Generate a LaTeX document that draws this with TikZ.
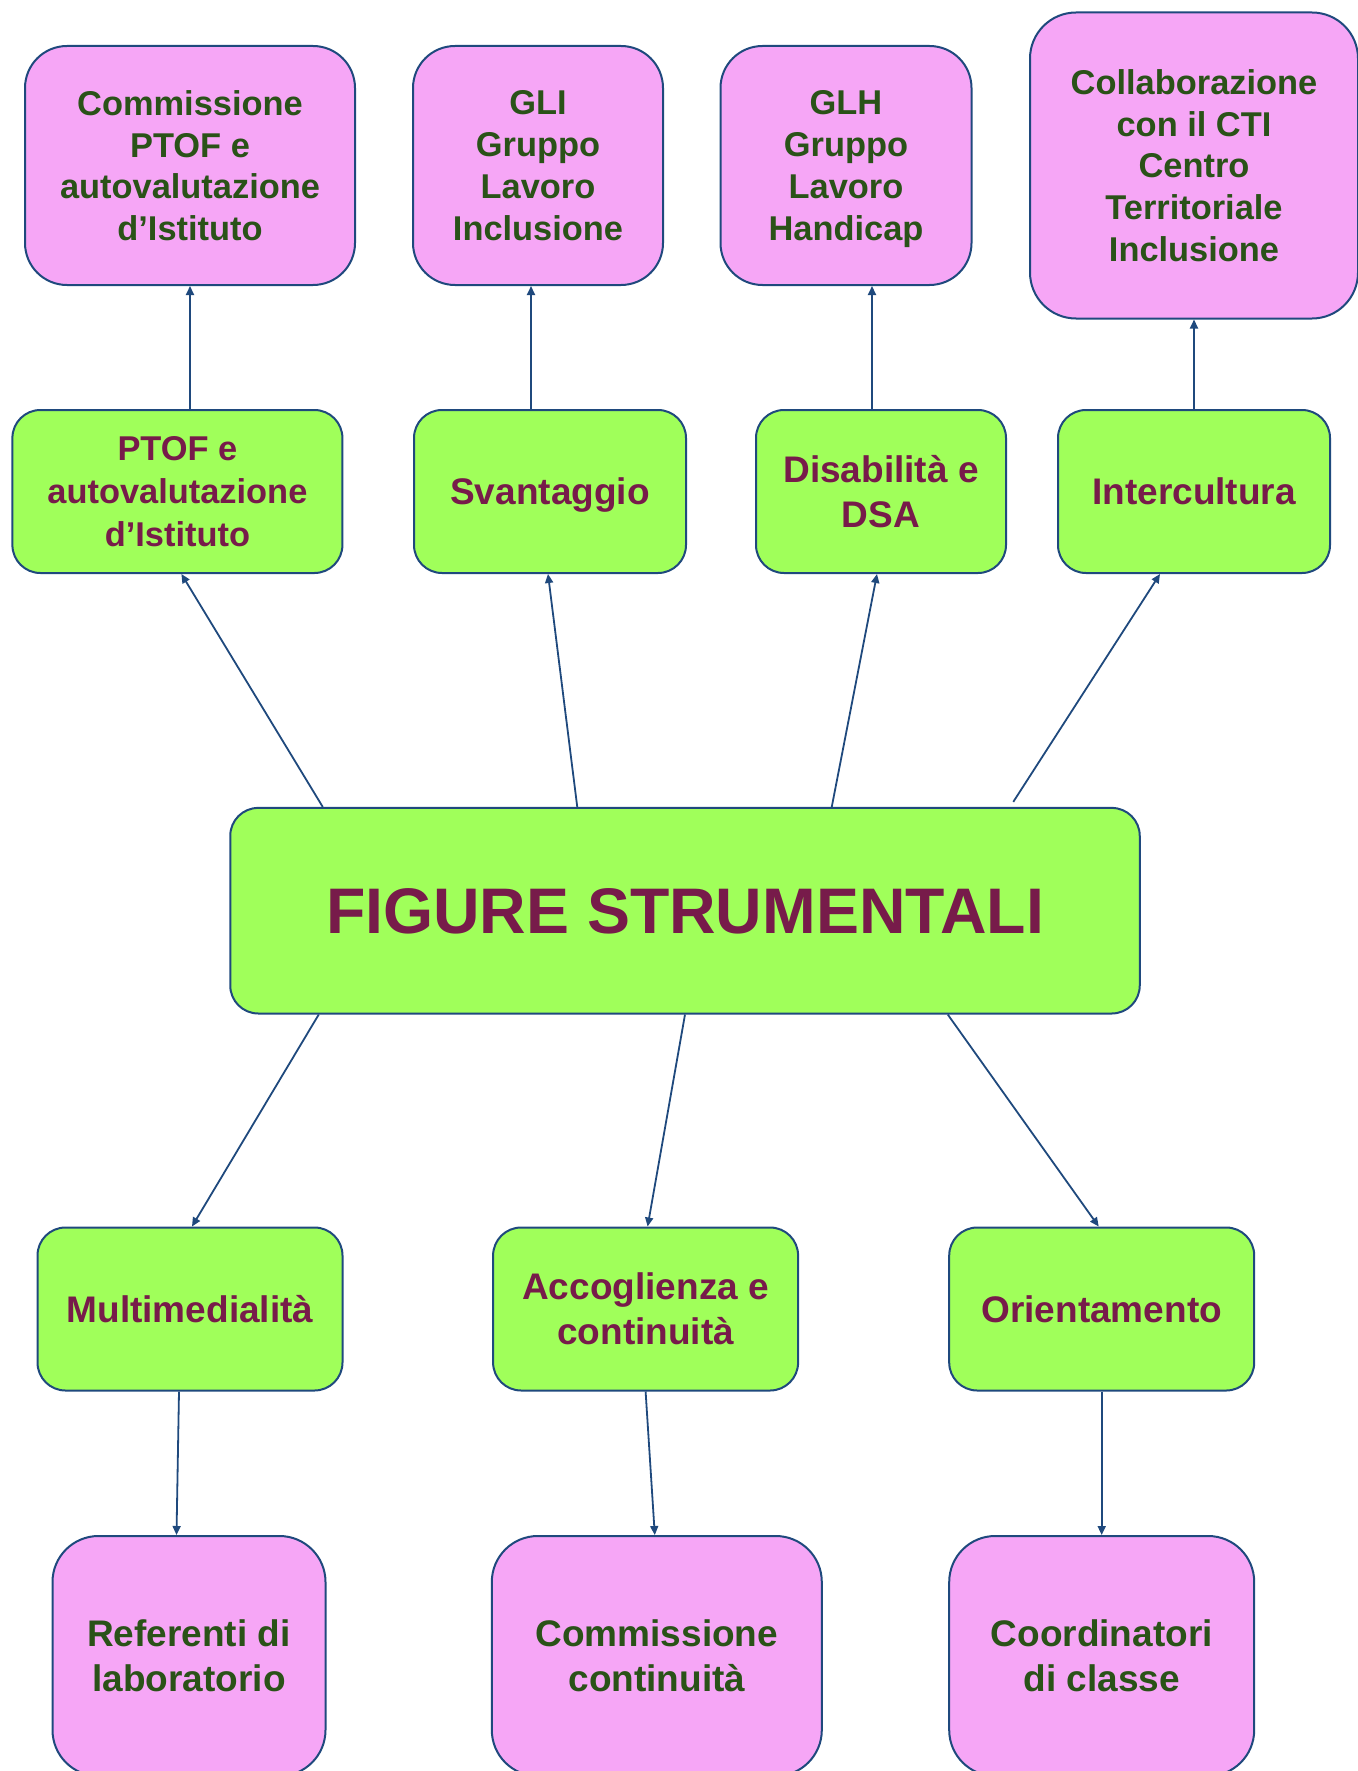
\documentclass[tikz,border=0pt]{standalone}
\usepackage{fontspec}
\setmainfont{Liberation Sans}
\usepackage{tikz}
\usetikzlibrary{arrows.meta,positioning,calc}
\definecolor{boxpink}{RGB}{246,166,246}
\definecolor{boxgreen}{RGB}{160,255,90}
\definecolor{textmaroon}{RGB}{119,27,74}
\definecolor{textgreen}{RGB}{42,82,24}
\definecolor{linkblue}{RGB}{31,73,125}

\tikzset{
    box/.style={draw=linkblue, line width=1pt, align=center, inner sep=0pt, text depth=0pt},
    pinkbox/.style={box, fill=boxpink, text=textgreen, rounded corners=21pt,
          minimum height=119.5pt, font=\fontsize{17.2pt}{20.9pt}\selectfont\bfseries},
    lowpink/.style={pinkbox, rounded corners=23pt, minimum height=120pt,
          font=\fontsize{18.5pt}{22.5pt}\selectfont\bfseries},
    greenbox/.style={box, fill=boxgreen, text=textmaroon, rounded corners=14pt,
          minimum height=81.5pt, font=\fontsize{18.5pt}{22.5pt}\selectfont\bfseries},
    link/.style={draw=linkblue, line width=0.9pt, -{Triangle[length=4.5pt,width=4pt]}}
}

\begin{document}
\begin{tikzpicture}[x=0.5pt, y=-0.5pt]
    \useasboundingbox (0,0) rectangle (1357,1771);

    % top row
    \node[pinkbox, minimum width=165pt] (P1) at (190,165.5)
        {Commissione\\PTOF e\\autovalutazione\\d’Istituto};
    \node[pinkbox, minimum width=125pt] (P2) at (538,165.5)
        {GLI\\Gruppo\\Lavoro\\Inclusione};
    \node[pinkbox, minimum width=125.5pt] (P3) at (846,165.5)
        {GLH\\Gruppo\\Lavoro\\Handicap};
    \node[pinkbox, minimum width=164pt, minimum height=153pt, rounded corners=23pt] (P4) at (1194,165.5)
        {Collaborazione\\con il CTI\\Centro\\Territoriale\\Inclusione};

    % second row
    \node[greenbox, minimum width=165pt, font=\fontsize{17.2pt}{21.5pt}\selectfont\bfseries] (G1) at (177.4,491.5)
        {PTOF e\\autovalutazione\\d’Istituto};
    \node[greenbox, minimum width=136pt] (G2) at (550,491.5) {Svantaggio};
    \node[greenbox, minimum width=125pt] (G3) at (881,491.5) {Disabilità e\\DSA};
    \node[greenbox, minimum width=136pt] (G4) at (1194,491.5) {Intercultura};

    % centre
    \node[greenbox, minimum width=454.75pt, minimum height=102.8pt,
          font=\fontsize{32.2pt}{36pt}\selectfont\bfseries] (C) at (685,910.7)
        {FIGURE STRUMENTALI};

    % lower rows
    \node[greenbox, minimum width=152.5pt] (B1) at (190,1309) {Multimedialità};
    \node[greenbox, minimum width=152.5pt] (B2) at (645.6,1309) {Accoglienza e\\continuità};
    \node[greenbox, minimum width=152.5pt] (B3) at (1101.7,1309) {Orientamento};

    \node[lowpink, minimum width=136.5pt] (Q1) at (189,1656) {Referenti di\\laboratorio};
    \node[lowpink, minimum width=165pt] (Q2) at (656.8,1656) {Commissione\\continuità};
    \node[lowpink, minimum width=152.5pt] (Q3) at (1101.7,1656) {Coordinatori\\di classe};

    % links
    \draw[link] (G1.north -| P1.south) -- (P1.south);
    \draw[link] ([xshift=-9.5pt]G2.north) -- ([xshift=-3.5pt]P2.south);
    \draw[link] ([xshift=-4.5pt]G3.north) -- ([xshift=13pt]P3.south);
    \draw[link] (G4.north) -- (P4.south);

    \draw[link] ([xshift=46.75pt]C.north west) -- ([xshift=2pt]G1.south);
    \draw[link] ([xshift=174pt]C.north west) -- ([xshift=-1pt]G2.south);
    \draw[link] ([xshift=301.25pt]C.north west) -- ([xshift=-2pt]G3.south);
    \draw[link] ([xshift=392pt,yshift=2.5pt]C.north west) -- ([xshift=-17pt]G4.south);

    \draw[link] ([xshift=44.75pt]C.south west) -- ([xshift=1pt]B1.north);
    \draw[link] (C.south) -- ([xshift=1pt]B2.north);
    \draw[link] ([xshift=359.25pt]C.south west) -- ([xshift=-1.5pt]B3.north);

    \draw[link] ([xshift=-5.5pt]B1.south) -- ([xshift=-6.25pt]Q1.north);
    \draw[link] (B2.south) -- ([xshift=-1pt]Q2.north);
    \draw[link] (B3.south) -- (Q3.north);
\end{tikzpicture}
\end{document}
